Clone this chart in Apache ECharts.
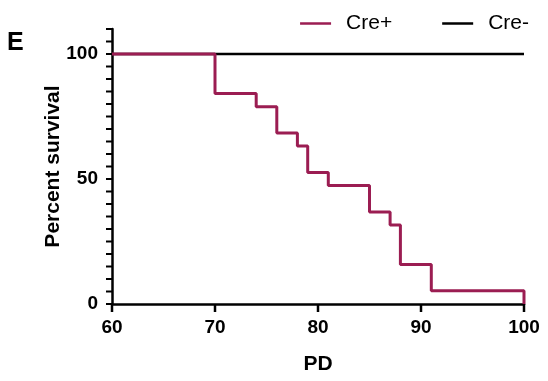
<!DOCTYPE html>
<html><head><meta charset="utf-8">
<script src="https://cdn.jsdelivr.net/npm/echarts@6/dist/echarts.min.js"></script>
<style>html,body{margin:0;padding:0;background:#fff}#c{width:548px;height:381px}</style>
</head><body><div id="c"></div>
<script>
const seriesNames = ['Cre+', 'Cre-'];
const creMinusPD = [60, 100];
const creMinusSurvival = [100, 100];
const crePlusPD = [60, 70, 74, 76, 78, 79, 81, 85, 87, 88, 91, 100];
const crePlusSurvival = [100, 84.2, 78.9, 68.4, 63.2, 52.6, 47.4, 36.8, 31.6, 15.8, 5.3, 0];
const xTicks = [60, 70, 80, 90, 100];
const yTickLabels = [0, 50, 100];
const yTickMarks = [0, 5, 10, 15, 20, 25, 30, 35, 40, 45, 50, 55, 60, 65, 70, 75, 80, 85, 90, 95, 100, 105, 110];

const chart = echarts.init(document.getElementById('c'));
const font = 'Arial';

function tickSeries(values, isY) {
  return {
    type: 'custom', silent: true, clip: false, z: 10,
    data: values.map(v => isY ? [60, v] : [v, 0]),
    encode: {x: 0, y: 1},
    renderItem: function (params, api) {
      const p = api.coord([api.value(0), api.value(1)]);
      const shape = isY
        ? {x1: p[0] - 6, y1: p[1], x2: p[0], y2: p[1]}
        : {x1: p[0], y1: p[1], x2: p[0], y2: p[1] + 8};
      return {type: 'line', shape: shape, style: {stroke: '#000', lineWidth: isY ? 2 : 2.5}};
    }
  };
}

chart.setOption({
  animation: false,
  grid: {left: 112, right: 24, top: 29, bottom: 77},
  graphic: [{type: 'text', left: 7, top: 31, style: {text: 'E', fontFamily: font, fontSize: 25, fontWeight: 'bold', fill: '#000'}}],
  legend: {
    top: 8, right: 14, itemWidth: 31, itemHeight: 2.5, itemGap: 50,
    icon: 'rect',
    textStyle: {fontFamily: font, fontSize: 21, color: '#000', padding: [0, 0, 0, 10]},
    data: seriesNames
  },
  xAxis: {
    type: 'value', min: 60, max: 100, interval: 10,
    name: 'PD', nameLocation: 'middle', nameGap: 50, nameMoveOverlap: false,
    nameTextStyle: {fontFamily: font, fontSize: 21, fontWeight: 'bold', color: '#000'},
    axisLine: {show: true, onZero: false, lineStyle: {color: '#000', width: 2.5}},
    axisTick: {show: false},
    axisLabel: {show: true, fontFamily: font, fontSize: 19, fontWeight: 'bold', color: '#000', margin: 14,
      formatter: v => xTicks.includes(v) ? String(v) : ''},
    splitLine: {show: false}
  },
  yAxis: {
    type: 'value', min: 0, max: 110, interval: 5,
    name: 'Percent survival', nameLocation: 'middle', nameGap: 48, nameMoveOverlap: false,
    nameTextStyle: {fontFamily: font, fontSize: 21, fontWeight: 'bold', color: '#000'},
    axisLine: {show: true, onZero: false, lineStyle: {color: '#000', width: 2.5}},
    axisTick: {show: false},
    axisLabel: {show: true, fontFamily: font, fontSize: 19, fontWeight: 'bold', color: '#000', margin: 14,
      formatter: v => yTickLabels.includes(v) ? String(v) : ''},
    splitLine: {show: false}
  },
  series: [
    {name: 'Cre-', type: 'line', symbol: 'none', color: '#000',
      lineStyle: {width: 2.5, color: '#000'},
      data: creMinusPD.map((x, i) => [x, creMinusSurvival[i]])},
    {name: 'Cre+', type: 'line', symbol: 'none', step: 'end', color: '#9b1d52',
      lineStyle: {width: 3, color: '#9b1d52'},
      data: crePlusPD.map((x, i) => [x, crePlusSurvival[i]])},
    tickSeries(yTickMarks, true),
    tickSeries(xTicks, false)
  ]
});
</script></body></html>
